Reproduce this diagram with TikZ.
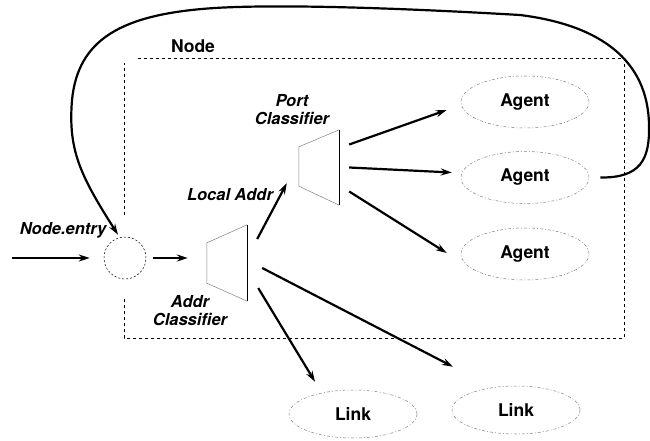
\documentclass[tikz,border=0pt]{standalone}
\usepackage{fontspec}
\setmainfont{TeX Gyre Heros}
\usetikzlibrary{positioning,calc,shapes.geometric,arrows.meta}

\begin{document}
\begin{tikzpicture}[x=1pt,y=-1pt,
                entrynode/.style={circle, draw, dash pattern=on 2pt off 2pt, line width=0.5pt, minimum size=42pt, inner sep=0pt},
                classnode/.style={rectangle, minimum width=40pt, minimum height=76pt, inner sep=0pt},
                agentnode/.style={ellipse, draw=gray, dash pattern=on 3pt off 2pt on 1pt off 2pt, line width=0.5pt, minimum width=128pt, minimum height=52pt, font=\fontsize{17.5}{19}\selectfont\bfseries},
                labeltext/.style={font=\fontsize{16.5}{18}\selectfont\bfseries\itshape, align=center},
                arrowline/.style={-{Stealth[length=11pt,width=7pt]}, line width=2.2pt},
            ]
            \useasboundingbox (0,0) rectangle (650,441);

            % Box
            \draw[dashed, line width=0.5pt] (138,58) -- (624,58) -- (624,338) -- (124,338) -- (124,298);
            \draw[dashed, line width=0.5pt] (124,215) -- (124,63);
            \node[font=\fontsize{17.5}{19}\selectfont\bfseries] (nodelabel) at (193,46) {Node};

            % Nodes
            \node[entrynode]        (entry)     at (125,258)     {};
            \node[classnode]        (addr)      at (227,263)     {};
            \node[classnode, minimum height=75pt]   (port)   at (319,167.5)   {};

            \node[agentnode]        (agent1)    at (525,102)           {Agent};
            \node[agentnode]        (agent2)    [below=23pt of agent1] {Agent};
            \node[agentnode]        (agent3)    [below=24pt of agent2] {Agent};

            \node[agentnode, minimum height=48pt]   (link1)   at (353,414)   {Link};
            \node[agentnode, minimum height=48pt]   (link2)   at (516,410)   {Link};

            \coordinate (source) at (12,258);

            % Classifiers
            \draw[gray, line width=0.5pt] (addr.north east) -- ($(addr.north west)+(0,18)$) -- ($(addr.south west)+(0,-18)$) -- (addr.south east);
            \draw[line width=0.6pt] (addr.north east) -- (addr.south east);
            \draw[gray, line width=0.5pt] (port.north east) -- ($(port.north west)+(0,17)$) -- ($(port.south west)+(0,-19)$) -- (port.south east);
            \draw[line width=0.6pt] (port.north east) -- (port.south east);

            % Labels
            \node[labeltext]        (entrylabel)    at (63,230)     {Node.entry};
            \node[labeltext]        (locallabel)    at (230,195)    {Local Addr};
            \node[labeltext]        (addrlabel)     at (190,311)    {Addr\\Classifier};
            \node[labeltext]        (portlabel)     at (292,110)    {Port\\Classifier};

            %Lines
            \draw[arrowline] (source) -- ($(entry.west)+(-14,0)$);
            \draw[arrowline] ($(entry.east)+(7,0)$) -- ($(addr.west)+(-19,-5)$);
            \draw[arrowline] ($(addr.east)+(10,-24)$) -- ($(port.south west)+(-12,-22)$);
            \draw[arrowline] ($(addr.east)+(11,25)$) -- ($(link1.north)+(-38,-8)$);
            \draw[arrowline] ($(addr.east)+(15,5)$) -- ($(link2.north)+(-63,-19)$);

            \draw[arrowline] ($(port.east)+(10,-23)$) -- ($(agent1.west)+(-14,8)$);
            \draw[arrowline] ($(port.east)+(10,0)$) -- ($(agent2.west)+(-9,-5)$);
            \draw[arrowline] ($(port.east)+(10,24)$) -- ($(agent3.west)+(-14,-1)$);

            \draw[arrowline] ($(agent2.east)+(11,0)$) .. controls (640,178) and (650,160) .. (649,125)
                .. controls (648,60) and (600,25) .. (520,15)
                .. controls (400,8) and (280,4) .. (215,8)
                .. controls (120,14) and (78,40) .. (72,100)
                .. controls (68,150) and (80,175) .. ($(entry.north)+(-7,-2)$);
        \end{tikzpicture}
\end{document}
